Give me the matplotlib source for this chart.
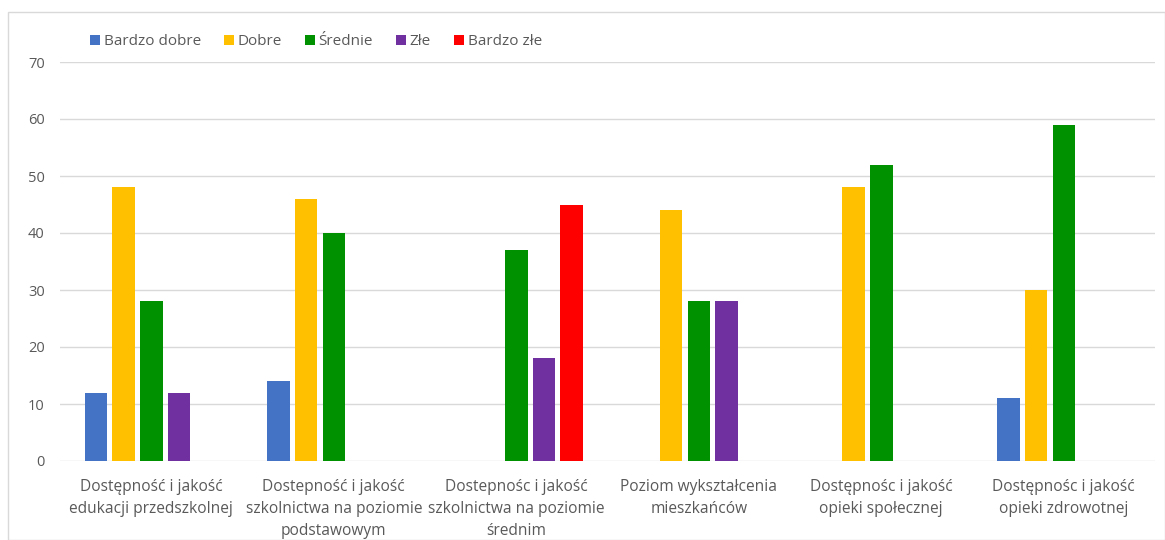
import matplotlib
matplotlib.use("Agg")
import matplotlib.pyplot as plt
import numpy as np
from matplotlib.patches import Rectangle

categories = [
    "Dostępność i jakość\nedukacji przedszkolnej",
    "Dostepność i jakość\nszkolnictwa na poziomie\npodstawowym",
    "Dostepnośc i jakość\nszkolnictwa na poziomie\nśrednim",
    "Poziom wykształcenia\nmieszkańców",
    "Dostępnośc i jakość\nopieki społecznej",
    "Dostępnośc i jakość\nopieki zdrowotnej",
]
series_names = ["Bardzo dobre", "Dobre", "Średnie", "Złe", "Bardzo złe"]
bardzo_dobre = [12, 14, 0, 0, 0, 11]
dobre = [48, 46, 0, 44, 48, 30]
srednie = [28, 40, 37, 28, 52, 59]
zle = [12, 0, 18, 28, 0, 0]
bardzo_zle = [0, 0, 45, 0, 0, 0]
series_values = [bardzo_dobre, dobre, srednie, zle, bardzo_zle]
colors = ["#4472C4", "#FFC000", "#009100", "#7030A0", "#FF0000"]
yticks = [0, 10, 20, 30, 40, 50, 60, 70]

plt.rcParams['font.family'] = ['Open Sans', 'DejaVu Sans']
W, H = 1165, 540
fig = plt.figure(figsize=(W / 100, H / 100), dpi=100)
ax = fig.add_axes([60 / W, (H - 461) / H, (1155 - 60) / W, (461 - 62) / H])

x = np.arange(len(categories))
slot = 27.7 / 182.5
bw = 22.5 / 182.5
for i, (name, vals, c) in enumerate(zip(series_names, series_values, colors)):
    ax.bar(x + (i - 2) * slot, vals, width=bw, color=c, label=name, zorder=3)

ax.set_xlim(-0.5, len(categories) - 0.5)
ax.set_ylim(0, 70)
ax.set_yticks(yticks)
ax.grid(axis='y', color='#D9D9D9', linewidth=1, zorder=0)
for s in ax.spines.values():
    s.set_visible(False)
ax.tick_params(axis='both', length=0, colors='#595959', labelsize=10.5)
ax.tick_params(axis='y', pad=11)
ax.set_xticks(x)
ax.set_xticklabels(categories, linespacing=1.5, fontsize=11.2)
ax.tick_params(axis='x', pad=13)

leg = fig.legend(loc='center left', bbox_to_anchor=(76 / W, 1 - 42 / H), ncol=5,
                 frameon=False, handlelength=0.65, handleheight=0.65,
                 handletextpad=0.25, columnspacing=1.5, fontsize=11)
for t in leg.get_texts():
    t.set_color('#595959')

fig.patches.append(Rectangle((8 / W, 0), (1165 - 8) / W, (H - 12) / H, transform=fig.transFigure,
                             fill=False, edgecolor='#D9D9D9', linewidth=1))

fig.savefig("out.png", dpi=100)
